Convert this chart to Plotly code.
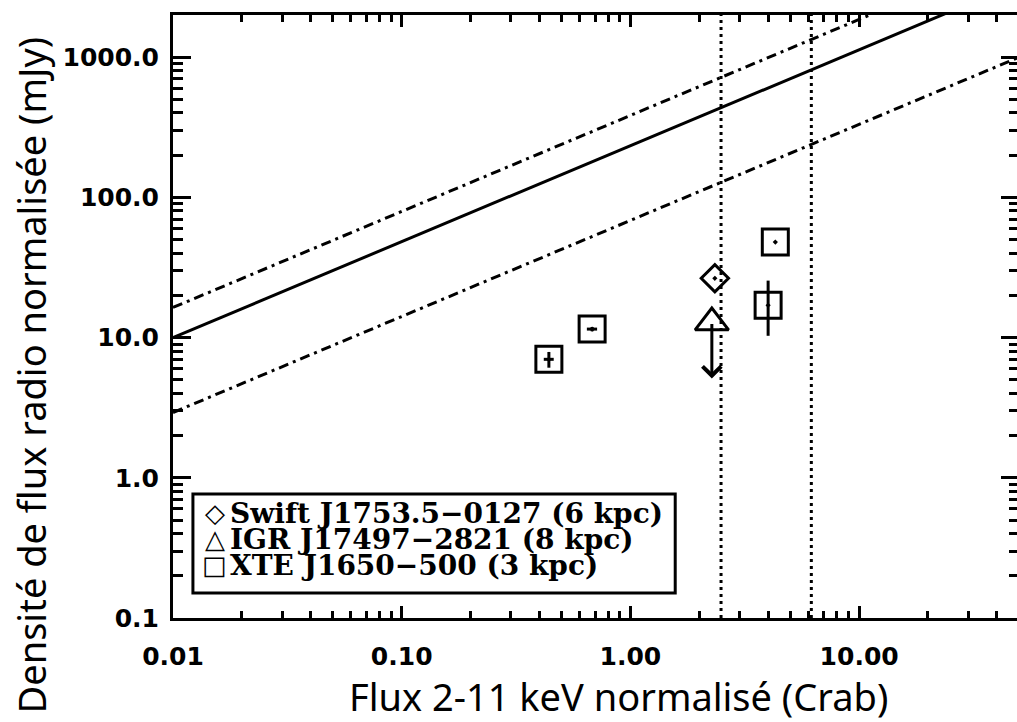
import numpy as np
import plotly.graph_objects as go

# ---------------- data ----------------
# power-law correlation lines (values read at the x-range ends)
line_x = [0.01, 50.0]
line_solid_y = [10.0, 3400.0]
line_upper_y = [16.4, 5600.0]
line_lower_y = [2.92, 1000.0]

# vertical dotted thresholds (Crab)
vline_x = [2.49, 6.18]

# XTE J1650-500 (squares)
xte_x = [0.44, 0.68, 4.3, 4.0]
xte_y = [7.0, 11.5, 48.0, 17.0]
xte_xerr = [0.022, 0.035, 0.0, 0.0]
xte_yerr_plus = [0.9, 0.4, 0.0, 8.5]
xte_yerr_minus = [0.9, 0.4, 0.0, 6.7]

# Swift J1753.5-0127 (diamond)
swift_x = [2.34]
swift_y = [26.5]

# IGR J17497-2821 (triangle, upper limit)
igr_x = [2.27]
igr_y = [12.8]
igr_limit_y = [5.1]

x_tickvals = [0.01, 0.1, 1, 10]
x_ticktext = ["0.01", "0.10", "1.00", "10.00"]
y_tickvals = [0.1, 1, 10, 100, 1000]
y_ticktext = ["0.1", "1.0", "10.0", "100.0", "1000.0"]

legend_symbols = ["◇", "△", "□"]
legend_labels = [
    "Swift J1753.5−0127 (6 kpc)",
    "IGR J17497−2821 (8 kpc)",
    "XTE J1650−500 (3 kpc)",
]

x_title = "Flux 2-11 keV normalisé (Crab)"
y_title = "Densité de flux radio normalisée (mJy)"

# ---------------- figure ----------------
W, H = 1025, 722
L, R, T, B = 173, 3, 15, 104
pw, ph = W - L - R, H - T - B

def px_x(p):
    return (p - L) / pw

def px_y(p):
    return 1 - (p - T) / ph

fig = go.Figure()

black = "black"
lw = 3
dashdot = "10px,5px,3px,5px"

for ys, dash in [(line_solid_y, "solid"), (line_upper_y, dashdot), (line_lower_y, dashdot)]:
    fig.add_trace(go.Scatter(x=line_x, y=ys, mode="lines",
                             line=dict(color=black, width=lw, dash=dash),
                             showlegend=False, hoverinfo="skip"))

for vx in vline_x:
    fig.add_vline(x=vx, line=dict(color=black, width=3, dash="3px,4px"))

fig.add_trace(go.Scatter(
    x=xte_x, y=xte_y, mode="markers",
    marker=dict(symbol="square-open-dot", size=26, color=black,
                line=dict(color=black, width=3)),
    error_x=dict(type="data", array=xte_xerr, color=black, thickness=3, width=0),
    error_y=dict(type="data", array=xte_yerr_plus, arrayminus=xte_yerr_minus,
                 symmetric=False, color=black, thickness=3, width=0),
    name="XTE J1650-500 (3 kpc)", showlegend=False))

fig.add_trace(go.Scatter(
    x=swift_x, y=swift_y, mode="markers",
    marker=dict(symbol="diamond-open-dot", size=21, color=black,
                line=dict(color=black, width=3)),
    name="Swift J1753.5-0127 (6 kpc)", showlegend=False))

fig.add_trace(go.Scatter(
    x=igr_x, y=igr_y, mode="markers",
    marker=dict(symbol="triangle-up-open", size=29, color=black,
                line=dict(color=black, width=3)),
    name="IGR J17497-2821 (8 kpc)", showlegend=False))

# upper-limit arrow
for xv, yv, yl in zip(igr_x, igr_y, igr_limit_y):
    fig.add_annotation(x=np.log10(xv), y=np.log10(yl), ax=np.log10(xv), ay=np.log10(yv),
                       xref="x", yref="y", axref="x", ayref="y", text="",
                       showarrow=True, arrowhead=4, arrowsize=1.2, arrowwidth=3,
                       arrowcolor=black, standoff=0, startstandoff=0)

# legend box
fig.add_shape(type="rect", xref="paper", yref="paper",
              x0=px_x(193), x1=px_x(677), y0=px_y(593), y1=px_y(494),
              line=dict(color=black, width=3), fillcolor="white", layer="above")
leg_font = dict(family="DejaVu Serif", size=28, color=black, weight="bold")
sym_font = dict(family="DejaVu Sans", size=26, color=black, weight="bold")
for i, (s, t) in enumerate(zip(legend_symbols, legend_labels)):
    yc = px_y(513 + 26 * i)
    fig.add_annotation(xref="paper", yref="paper", x=px_x(215), y=yc,
                       xanchor="center", yanchor="middle", text=s, showarrow=False,
                       font=sym_font, borderpad=0)
    fig.add_annotation(xref="paper", yref="paper", x=px_x(229), y=yc,
                       xanchor="left", yanchor="middle", text=t, showarrow=False,
                       font=leg_font, borderpad=0)

# axis titles
fig.add_annotation(xref="paper", yref="paper", x=px_x(620), y=px_y(696),
                   text=x_title, showarrow=False,
                   font=dict(family="Noto Sans", size=38, color=black),
                   xanchor="center", yanchor="middle")
fig.add_annotation(xref="paper", yref="paper", x=px_x(30), y=px_y(375),
                   text=y_title, showarrow=False,
                   font=dict(family="Noto Sans", size=38, color=black), textangle=-90,
                   xanchor="center", yanchor="middle")

tick_font = dict(family="DejaVu Sans", size=25, color=black, weight="bold")

def minor_vals(lo, hi):
    out = []
    for e in range(lo, hi + 1):
        for m in range(2, 10):
            out.append(m * 10.0 ** e)
    return out

fig.update_xaxes(type="log", range=[-2, np.log10(50)],
                 tickmode="array", tickvals=x_tickvals, ticktext=x_ticktext,
                 ticks="inside", ticklen=12, tickwidth=3, tickcolor=black,
                 minor=dict(tickmode="array", tickvals=minor_vals(-2, 1),
                            ticks="inside", ticklen=7, tickwidth=3, tickcolor=black,
                            showgrid=False),
                 showline=True, linecolor=black, linewidth=3, mirror="ticks",
                 showgrid=False, zeroline=False, tickfont=tick_font,
                 ticklabelstandoff=14)
fig.update_yaxes(type="log", range=[-1, np.log10(2000)],
                 tickmode="array", tickvals=y_tickvals, ticktext=y_ticktext,
                 ticks="inside", ticklen=18, tickwidth=3, tickcolor=black,
                 minor=dict(tickmode="array", tickvals=minor_vals(-1, 3),
                            ticks="inside", ticklen=10, tickwidth=3, tickcolor=black,
                            showgrid=False),
                 showline=True, linecolor=black, linewidth=3, mirror="ticks",
                 showgrid=False, zeroline=False, tickfont=tick_font,
                 ticklabelstandoff=6)

fig.update_layout(width=W, height=H, autosize=False,
                  margin=dict(l=L, r=R, t=T, b=B),
                  plot_bgcolor="white", paper_bgcolor="white",
                  showlegend=False)

fig.write_html("out.html",
               config={"displayModeBar": False},
               post_script="document.body.style.margin='0px';"
                           "document.body.style.overflow='hidden';"
                           "document.documentElement.style.overflow='hidden';")
